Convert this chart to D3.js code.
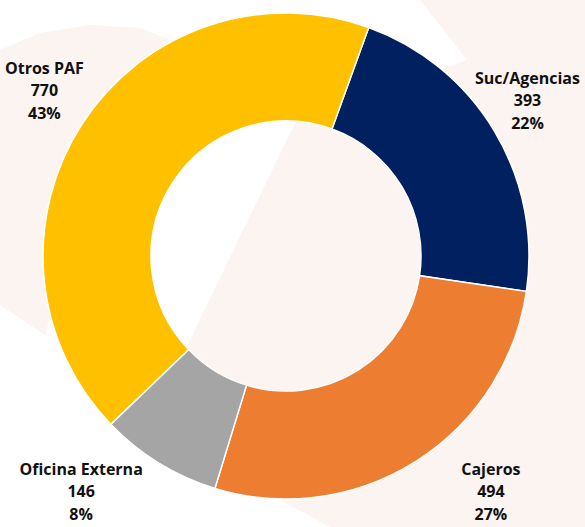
<!DOCTYPE html>
<html>
<head>
<meta charset="utf-8">
<script src="https://cdn.jsdelivr.net/npm/d3@7"></script>
<style>
  html, body { margin: 0; padding: 0; background: #fff; }
  svg { display: block; }
  .lbl { font-family: "Open Sans", sans-serif; font-weight: 700; font-size: 16px; fill: #111; }
</style>
</head>
<body>
<div id="chart"></div>
<script>
const categories = ["Suc/Agencias", "Cajeros", "Oficina Externa", "Otros PAF"];
const values = [393, 494, 146, 770];
const percents = ["22%", "27%", "8%", "43%"];
const colors = ["#002060", "#ED7D31", "#A5A5A5", "#FFC000"];

const width = 585, height = 527;
const cx = 286, cy = 256;
const outerR = 243, innerR = 135;
const startDeg = 19.9;

const svg = d3.select("#chart").append("svg")
  .attr("width", width)
  .attr("height", height);

// faint watermark behind the chart
svg.append("rect").attr("width", width).attr("height", height).attr("fill", "#FBF4F1");
svg.append("path")
  .attr("fill", "#ffffff")
  .attr("d", d3.line().curve(d3.curveLinearClosed)([[0, 0], [420, 0], [467, 60], [295, 123], [190, 340], [150, 430],
    [330, 527], [0, 527], [0, 305], [45, 335], [100, 150], [170, 40], [140, 28], [90, 25], [40, 33], [0, 50]]));

const data = categories.map((c, i) => ({ name: c, value: values[i], pct: percents[i], color: colors[i] }));

const start = startDeg * Math.PI / 180;
const pie = d3.pie().sort(null).value(d => d.value)
  .startAngle(start).endAngle(start + 2 * Math.PI);
const arc = d3.arc().innerRadius(innerR).outerRadius(outerR);

const g = svg.append("g").attr("transform", `translate(${cx},${cy})`);
const arcs = pie(data);

g.selectAll("path.slice")
  .data(arcs)
  .join("path")
  .attr("class", "slice")
  .attr("d", arc)
  .attr("fill", d => d.data.color)
  .attr("stroke", "#fff")
  .attr("stroke-width", 1.5);

// labels: placed outward along mid angle, pushed back inside the canvas
const labelR = 313;
const bottomR = 308;
const lineH = 22.5;
const maxDy = 230;
const label = svg.append("g").selectAll("text")
  .data(arcs)
  .join("text")
  .attr("class", "lbl")
  .attr("text-anchor", "middle");

label.each(function (d) {
  const t = d3.select(this);
  [d.data.name, d.data.value, d.data.pct].forEach((s, i) => {
    t.append("tspan").attr("x", 0).attr("dy", i === 0 ? 0 : lineH).text(s);
  });
  const w = this.getBBox().width;
  const mid = (d.startAngle + d.endAngle) / 2;
  let dx = Math.sin(mid) * labelR;
  let dy = -Math.cos(mid) * labelR;
  if (dy > maxDy) {
    dy = maxDy;
    dx = Math.sign(dx) * Math.sqrt(bottomR * bottomR - dy * dy);
  }
  let x = cx + dx;
  const y = cy + dy;
  const pad = 5;
  x = Math.max(w / 2 + pad, Math.min(width - w / 2 - pad, x));
  // block centre at y; first baseline sits one line above the middle line
  const y0 = y - lineH + 11;
  t.attr("transform", `translate(${x},${y0})`);
});
</script>
</body>
</html>
